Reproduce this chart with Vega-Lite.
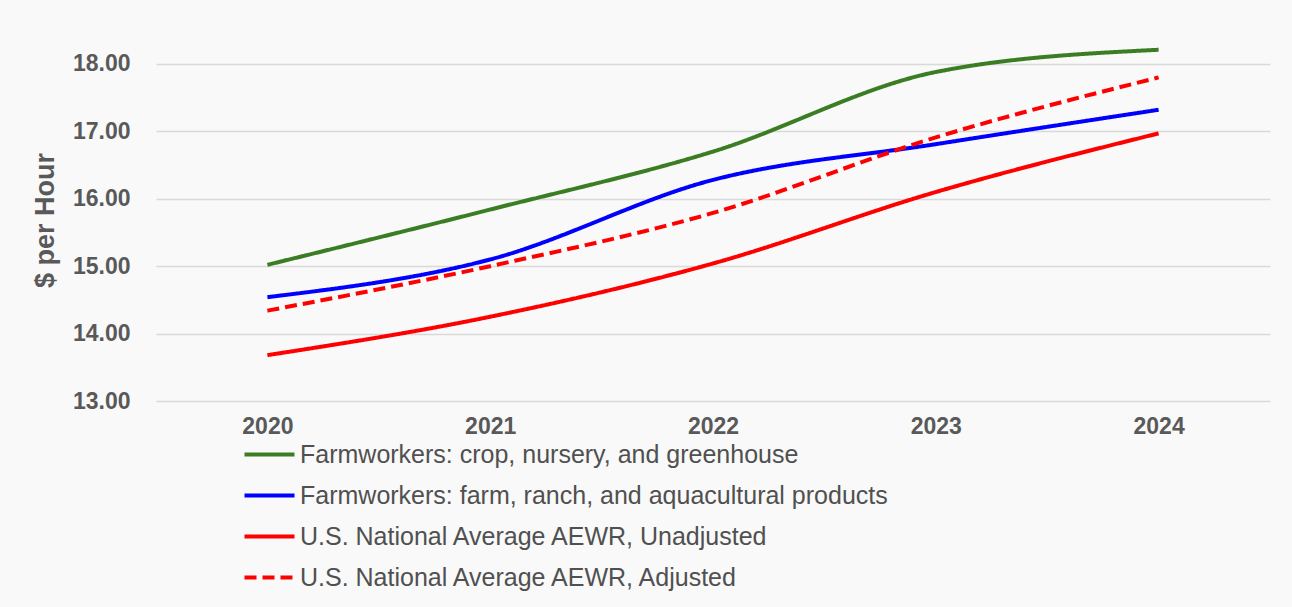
{
  "$schema": "https://vega.github.io/schema/vega-lite/v6.json",
  "autosize": "none",
  "width": 1114,
  "height": 391,
  "padding": {"left": 156, "top": 10, "right": 22, "bottom": 206},
  "background": "#f9f9f9",
  "config": {
    "view": {"stroke": null},
    "font": "Liberation Sans",
    "legend": {
      "orient": "none",
      "legendX": 74,
      "legendY": 430,
      "title": null,
      "symbolType": "M0,0H4",
      "symbolSize": 625,
      "symbolStrokeWidth": 4,
      "labelFont": "Liberation Sans",
      "labelFontSize": 25,
      "labelColor": "#505050",
      "labelOffset": 41,
      "labelLimit": 0,
      "rowPadding": 13,
      "direction": "vertical"
    }
  },
  "data": {
    "values": [
      {"year": "2020", "series": "Farmworkers:  crop, nursery, and greenhouse", "wage": 15.02},
      {"year": "2021", "series": "Farmworkers:  crop, nursery, and greenhouse", "wage": 15.84},
      {"year": "2022", "series": "Farmworkers:  crop, nursery, and greenhouse", "wage": 16.70},
      {"year": "2023", "series": "Farmworkers:  crop, nursery, and greenhouse", "wage": 17.88},
      {"year": "2024", "series": "Farmworkers:  crop, nursery, and greenhouse", "wage": 18.21},
      {"year": "2020", "series": "Farmworkers: farm, ranch, and aquacultural products", "wage": 14.54},
      {"year": "2021", "series": "Farmworkers: farm, ranch, and aquacultural products", "wage": 15.10},
      {"year": "2022", "series": "Farmworkers: farm, ranch, and aquacultural products", "wage": 16.28},
      {"year": "2023", "series": "Farmworkers: farm, ranch, and aquacultural products", "wage": 16.81},
      {"year": "2024", "series": "Farmworkers: farm, ranch, and aquacultural products", "wage": 17.32},
      {"year": "2020", "series": "U.S. National Average AEWR, Unadjusted", "wage": 13.68},
      {"year": "2021", "series": "U.S. National Average AEWR, Unadjusted", "wage": 14.25},
      {"year": "2022", "series": "U.S. National Average AEWR, Unadjusted", "wage": 15.04},
      {"year": "2023", "series": "U.S. National Average AEWR, Unadjusted", "wage": 16.10},
      {"year": "2024", "series": "U.S. National Average AEWR, Unadjusted", "wage": 16.97},
      {"year": "2020", "series": "U.S. National Average AEWR, Adjusted", "wage": 14.34},
      {"year": "2021", "series": "U.S. National Average AEWR, Adjusted", "wage": 15.00},
      {"year": "2022", "series": "U.S. National Average AEWR, Adjusted", "wage": 15.79},
      {"year": "2023", "series": "U.S. National Average AEWR, Adjusted", "wage": 16.91},
      {"year": "2024", "series": "U.S. National Average AEWR, Adjusted", "wage": 17.80}
    ]
  },
  "mark": {"type": "line", "strokeWidth": 4, "interpolate": "monotone"},
  "encoding": {
    "x": {
      "field": "year",
      "type": "ordinal",
      "scale": {"type": "point", "padding": 0.5},
      "axis": {
        "title": null,
        "labelAngle": 0,
        "domain": false,
        "ticks": false,
        "labelFont": "Liberation Sans",
        "labelFontSize": 23,
        "labelFontWeight": "bold",
        "labelColor": "#595959",
        "labelPadding": 14
      }
    },
    "y": {
      "field": "wage",
      "type": "quantitative",
      "scale": {"domain": [13, 18.8], "nice": false, "zero": false},
      "axis": {
        "title": "$ per Hour",
        "values": [13, 14, 15, 16, 17, 18],
        "format": ".2f",
        "domain": false,
        "ticks": false,
        "grid": true,
        "gridColor": "#d9d9d9",
        "gridWidth": 1.5,
        "labelFont": "Liberation Sans",
        "labelFontSize": 23,
        "labelFontWeight": "bold",
        "labelColor": "#595959",
        "labelPadding": 26,
        "titleFont": "Liberation Sans",
        "titleFontSize": 27,
        "titleFontWeight": "bold",
        "titleColor": "#595959",
        "titleX": -111,
        "titleY": 210,
        "titleAngle": -90,
        "titleAlign": "center",
        "titleBaseline": "middle"
      }
    },
    "color": {
      "field": "series",
      "type": "nominal",
      "sort": null,
      "scale": {
        "domain": [
          "Farmworkers:  crop, nursery, and greenhouse",
          "Farmworkers: farm, ranch, and aquacultural products",
          "U.S. National Average AEWR, Unadjusted",
          "U.S. National Average AEWR, Adjusted"
        ],
        "range": ["#3b7d23", "#0000ff", "#ff0000", "#ff0000"]
      }
    },
    "strokeDash": {
      "field": "series",
      "type": "nominal",
      "sort": null,
      "scale": {
        "domain": [
          "Farmworkers:  crop, nursery, and greenhouse",
          "Farmworkers: farm, ranch, and aquacultural products",
          "U.S. National Average AEWR, Unadjusted",
          "U.S. National Average AEWR, Adjusted"
        ],
        "range": [[1, 0], [1, 0], [1, 0], [12, 6]]
      }
    }
  }
}
